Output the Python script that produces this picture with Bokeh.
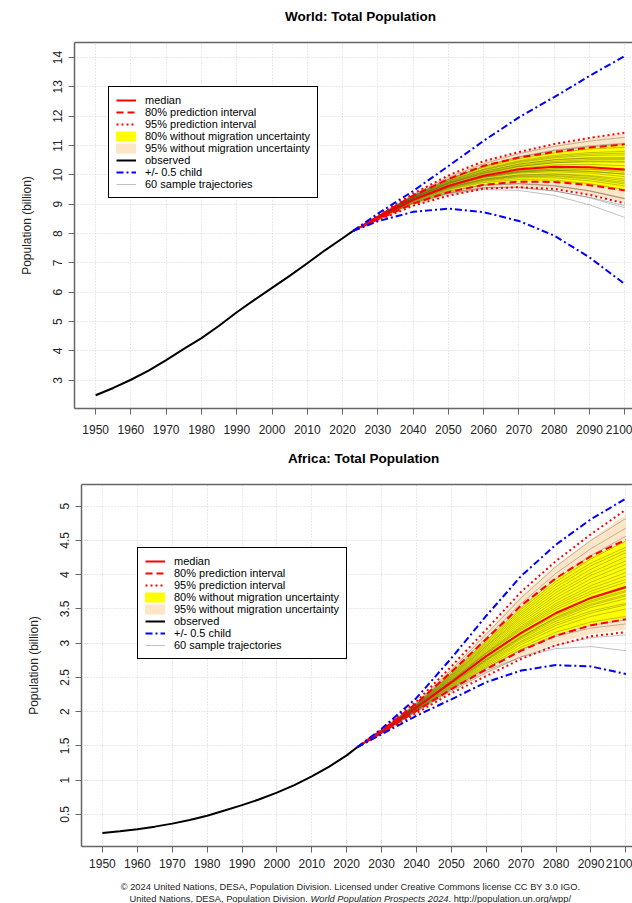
from bokeh.plotting import figure
from bokeh.models import FixedTicker, LinearAxis, Legend, LegendItem, Range1d
from bokeh.core.properties import value
from bokeh.embed import file_html
from bokeh.resources import INLINE

FONT = "Liberation Sans"

# ---------------- data ----------------
x_ticks = [1950, 1960, 1970, 1980, 1990, 2000, 2010, 2020, 2030, 2040, 2050, 2060, 2070, 2080, 2090, 2100]
obs_years = [1950, 1955, 1960, 1965, 1970, 1975, 1980, 1985, 1990, 1995, 2000, 2005, 2010, 2015, 2020, 2023]
proj_years = [2023, 2030, 2040, 2050, 2060, 2070, 2080, 2090, 2100]

# World (billion)
world_obs = [2.49, 2.74, 3.02, 3.33, 3.69, 4.07, 4.44, 4.86, 5.32, 5.74, 6.15, 6.56, 6.99, 7.43, 7.84, 8.09]
world_median = [8.09, 8.53, 9.15, 9.62, 9.97, 10.19, 10.28, 10.26, 10.18]
world_pi80_hi = [8.09, 8.58, 9.29, 9.86, 10.31, 10.59, 10.78, 10.93, 11.04]
world_pi80_lo = [8.09, 8.48, 9.02, 9.41, 9.66, 9.77, 9.76, 9.65, 9.47]
world_pi95_hi = [8.09, 8.61, 9.36, 9.98, 10.47, 10.78, 11.05, 11.26, 11.44]
world_pi95_lo = [8.09, 8.45, 8.95, 9.29, 9.53, 9.58, 9.52, 9.32, 9.03]
world_wo80_hi = [8.09, 8.58, 9.29, 9.86, 10.31, 10.59, 10.78, 10.93, 11.04]
world_wo80_lo = [8.09, 8.48, 9.02, 9.41, 9.66, 9.77, 9.76, 9.65, 9.47]
world_wo95_hi = [8.09, 8.61, 9.35, 9.97, 10.45, 10.76, 11.03, 11.24, 11.42]
world_wo95_lo = [8.09, 8.45, 8.96, 9.30, 9.54, 9.59, 9.53, 9.33, 9.05]
world_child_hi = [8.09, 8.68, 9.45, 10.30, 11.16, 11.96, 12.65, 13.37, 14.05]
world_child_lo = [8.09, 8.42, 8.74, 8.85, 8.73, 8.43, 7.93, 7.19, 6.28]
world_traj = [
    [8.56, 9.21, 9.70, 10.05, 10.28, 10.41, 10.45, 10.43],
    [8.53, 9.15, 9.58, 9.86, 10.00, 10.04, 9.98, 9.86],
    [8.58, 9.27, 9.80, 10.20, 10.48, 10.66, 10.76, 10.80],
    [8.52, 9.10, 9.50, 9.74, 9.84, 9.82, 9.70, 9.50],
    [8.55, 9.19, 9.66, 9.98, 10.17, 10.26, 10.26, 10.19],
    [8.57, 9.24, 9.75, 10.12, 10.37, 10.52, 10.58, 10.58],
    [8.54, 9.16, 9.62, 9.93, 10.10, 10.16, 10.12, 10.02],
    [8.51, 9.08, 9.46, 9.66, 9.71, 9.64, 9.46, 9.20],
    [8.59, 9.30, 9.86, 10.30, 10.62, 10.84, 10.99, 11.08],
    [8.50, 9.05, 9.40, 9.57, 9.58, 9.46, 9.22, 8.88],
    [8.56, 9.22, 9.72, 10.08, 10.32, 10.46, 10.52, 10.52],
    [8.53, 9.13, 9.56, 9.83, 9.96, 9.98, 9.90, 9.74],
    [8.49, 9.02, 9.36, 9.50, 9.47, 9.30, 8.98, 8.55],
    [8.57, 9.25, 9.77, 10.16, 10.42, 10.58, 10.66, 10.68],
    [8.55, 9.18, 9.64, 9.96, 10.14, 10.21, 10.19, 10.09],
    [8.54, 9.17, 9.63, 9.94, 10.12, 10.20, 10.20, 10.14],
    [8.52, 9.11, 9.52, 9.78, 9.90, 9.90, 9.80, 9.62],
    [8.58, 9.28, 9.83, 10.25, 10.55, 10.75, 10.88, 10.94],
    [8.60, 9.33, 9.92, 10.38, 10.72, 10.97, 11.15, 11.28],
    [8.51, 9.07, 9.44, 9.64, 9.69, 9.62, 9.45, 9.18],
    [8.55, 9.20, 9.68, 10.02, 10.23, 10.34, 10.36, 10.31],
    [8.53, 9.14, 9.57, 9.85, 9.99, 10.02, 9.95, 9.80],
    [8.57, 9.26, 9.79, 10.18, 10.45, 10.62, 10.71, 10.74],
    [8.54, 9.15, 9.60, 9.90, 10.06, 10.11, 10.06, 9.94],
    [8.56, 9.23, 9.74, 10.11, 10.36, 10.51, 10.57, 10.57],
    [8.52, 9.12, 9.54, 9.81, 9.94, 9.95, 9.86, 9.69],
    [8.58, 9.29, 9.85, 10.28, 10.60, 10.82, 10.96, 11.04],
    [8.54, 9.16, 9.61, 9.92, 10.09, 10.15, 10.12, 10.03],
    [8.50, 9.04, 9.38, 9.55, 9.56, 9.45, 9.24, 8.95],
    [8.56, 9.21, 9.71, 10.06, 10.29, 10.42, 10.47, 10.46],
]
world_y_ticks = [3, 4, 5, 6, 7, 8, 9, 10, 11, 12, 13, 14]
world_y_labels = ["3", "4", "5", "6", "7", "8", "9", "10", "11", "12", "13", "14"]

# Africa (billion)
africa_obs = [0.227, 0.253, 0.284, 0.321, 0.365, 0.418, 0.481, 0.556, 0.635, 0.720, 0.818, 0.928, 1.055, 1.198, 1.361, 1.480]
africa_median = [1.48, 1.71, 2.06, 2.43, 2.81, 3.15, 3.44, 3.66, 3.82]
africa_pi80_hi = [1.48, 1.73, 2.12, 2.58, 3.06, 3.55, 3.95, 4.27, 4.51]
africa_pi80_lo = [1.48, 1.69, 2.01, 2.33, 2.62, 2.89, 3.11, 3.26, 3.35]
africa_pi95_hi = [1.48, 1.74, 2.15, 2.66, 3.20, 3.75, 4.20, 4.59, 4.95]
africa_pi95_lo = [1.48, 1.68, 1.98, 2.27, 2.52, 2.77, 2.97, 3.10, 3.16]
africa_wo80_hi = [1.48, 1.725, 2.115, 2.57, 3.04, 3.52, 3.93, 4.25, 4.50]
africa_wo80_lo = [1.48, 1.695, 2.015, 2.34, 2.64, 2.91, 3.13, 3.28, 3.37]
africa_wo95_hi = [1.48, 1.735, 2.14, 2.64, 3.16, 3.70, 4.14, 4.52, 4.88]
africa_wo95_lo = [1.48, 1.685, 1.99, 2.29, 2.55, 2.80, 3.00, 3.13, 3.20]
africa_child_hi = [1.48, 1.75, 2.20, 2.78, 3.40, 3.98, 4.44, 4.81, 5.11]
africa_child_lo = [1.48, 1.67, 1.94, 2.18, 2.43, 2.60, 2.68, 2.66, 2.55]
africa_traj = [
    [1.71, 2.07, 2.45, 2.84, 3.19, 3.49, 3.72, 3.89],
    [1.72, 2.10, 2.54, 3.00, 3.46, 3.86, 4.17, 4.40],
    [1.70, 2.03, 2.37, 2.70, 3.01, 3.26, 3.44, 3.56],
    [1.71, 2.08, 2.48, 2.89, 3.28, 3.62, 3.89, 4.09],
    [1.69, 2.00, 2.30, 2.57, 2.80, 2.97, 3.08, 3.12],
    [1.73, 2.13, 2.61, 3.13, 3.66, 4.12, 4.50, 4.82],
    [1.70, 2.05, 2.41, 2.77, 3.10, 3.37, 3.57, 3.71],
    [1.71, 2.06, 2.44, 2.82, 3.16, 3.45, 3.67, 3.83],
    [1.69, 2.01, 2.32, 2.60, 2.80, 2.92, 2.95, 2.89],
    [1.72, 2.11, 2.56, 3.04, 3.52, 3.94, 4.28, 4.56],
    [1.70, 2.04, 2.39, 2.74, 3.06, 3.32, 3.52, 3.65],
    [1.71, 2.09, 2.50, 2.93, 3.34, 3.70, 3.99, 4.20],
    [1.70, 2.02, 2.35, 2.66, 2.94, 3.16, 3.31, 3.39],
    [1.71, 2.07, 2.46, 2.86, 3.23, 3.55, 3.80, 3.98],
    [1.72, 2.12, 2.58, 3.08, 3.58, 4.02, 4.38, 4.68],
    [1.70, 2.05, 2.42, 2.79, 3.13, 3.41, 3.62, 3.77],
    [1.71, 2.08, 2.47, 2.87, 3.25, 3.58, 3.84, 4.03],
    [1.70, 2.03, 2.38, 2.72, 3.03, 3.29, 3.47, 3.58],
    [1.72, 2.09, 2.52, 2.96, 3.40, 3.78, 4.08, 4.32],
    [1.69, 2.01, 2.33, 2.63, 2.90, 3.10, 3.22, 3.28],
    [1.71, 2.06, 2.43, 2.81, 3.15, 3.44, 3.66, 3.80],
    [1.72, 2.10, 2.53, 2.98, 3.43, 3.82, 4.13, 4.36],
    [1.70, 2.04, 2.40, 2.75, 3.08, 3.35, 3.55, 3.69],
    [1.71, 2.08, 2.49, 2.91, 3.31, 3.66, 3.94, 4.15],
    [1.70, 2.03, 2.36, 2.68, 2.98, 3.22, 3.39, 3.50],
    [1.72, 2.11, 2.55, 3.02, 3.49, 3.90, 4.23, 4.49],
    [1.71, 2.07, 2.45, 2.85, 3.21, 3.52, 3.76, 3.93],
    [1.69, 2.02, 2.34, 2.64, 2.91, 3.12, 3.26, 3.34],
    [1.71, 2.09, 2.51, 2.95, 3.37, 3.74, 4.03, 4.26],
    [1.70, 2.05, 2.41, 2.76, 3.09, 3.38, 3.60, 3.75],
]
africa_y_ticks = [0.5, 1, 1.5, 2, 2.5, 3, 3.5, 4, 4.5, 5]
africa_y_labels = ["0.5", "1", "1.5", "2", "2.5", "3", "3.5", "4", "4.5", "5"]

legend_labels = ["median", "80% prediction interval", "95% prediction interval",
                 "80% without migration uncertainty", "95% without migration uncertainty",
                 "observed", "+/- 0.5 child", "60 sample trajectories"]

titles = ["World: Total Population", "Africa: Total Population"]
footer_line1 = "\u00a9 2024 United Nations, DESA, Population Division. Licensed under Creative Commons license CC BY 3.0 IGO."
footer_line2 = ["United Nations, DESA, Population Division.", "World Population Prospects 2024",
                ". http://population.un.org/wpp/"]

BEIGE = "#FDE6C8"
AXIS = "#666666"
TXT = "#222222"


def strip(height):
    s = figure(width=632, height=height, output_backend="svg", toolbar_location=None,
               x_range=Range1d(0, 632), y_range=Range1d(height, 0),
               min_border_left=0, min_border_right=0, min_border_top=0, min_border_bottom=0,
               x_axis_location=None, y_axis_location=None)
    s.outline_line_color = None
    s.xgrid.visible = False
    s.ygrid.visible = False
    s.border_fill_color = "white"
    s.background_fill_color = "white"
    return s


def build(obs, med, hi80, lo80, hi95, lo95, whi80, wlo80, whi95, wlo95, chhi, chlo, traj,
          y0, y1, yticks, ylabels, height, b_left, b_top, b_bottom, x_end, legend_xy, x_standoff):
    p = figure(width=632, height=height, output_backend="svg", toolbar_location=None,
               x_range=Range1d(1944, x_end), y_range=Range1d(y0, y1),
               min_border_left=b_left, min_border_right=0, min_border_top=b_top,
               min_border_bottom=b_bottom)
    p.outline_line_color = None
    p.background_fill_color = "white"
    p.border_fill_color = "white"

    xa = p.xaxis[0]
    xa.ticker = FixedTicker(ticks=x_ticks)
    ya = p.yaxis[0]
    ya.ticker = FixedTicker(ticks=yticks)
    ya.major_label_overrides = {t: l for t, l in zip(yticks, ylabels)}
    ya.major_label_orientation = "vertical"
    ya.axis_label = "Population (billion)"
    ya.axis_label_text_font = FONT
    ya.axis_label_text_font_style = "normal"
    ya.axis_label_text_font_size = "12px"
    ya.axis_label_text_color = TXT
    ya.axis_label_standoff = 17
    for ax in (xa, ya):
        ax.axis_line_color = AXIS
        ax.axis_line_width = 1.5
        ax.major_tick_line_color = AXIS
        ax.major_tick_out = 6
        ax.major_tick_in = 0
        ax.minor_tick_line_color = None
        ax.major_label_text_font = FONT
        ax.major_label_text_font_size = "12px"
        ax.major_label_text_color = TXT
    xa.major_label_standoff = x_standoff
    ya.major_label_standoff = 6

    top = LinearAxis(ticker=FixedTicker(ticks=[]), axis_line_color=AXIS, axis_line_width=1.5,
                     major_tick_line_color=None, minor_tick_line_color=None,
                     major_label_text_font_size="0px", major_label_standoff=0)
    p.add_layout(top, "above")

    for g in (p.xgrid[0], p.ygrid[0]):
        g.grid_line_color = "#d3d3d3"
        g.grid_line_dash = "1 2"
        g.grid_line_width = 1

    p.varea(x=proj_years, y1=wlo95, y2=whi95, fill_color=BEIGE)
    p.varea(x=proj_years, y1=wlo80, y2=whi80, fill_color="yellow")
    r_traj = p.multi_line(xs=[proj_years] * len(traj), ys=[[obs[-1]] + t for t in traj],
                          line_color="#333333", line_alpha=0.3, line_width=1)
    r_obs = p.line(obs_years, obs, line_color="black", line_width=2)
    r95 = p.line(proj_years, hi95, line_color="red", line_width=2, line_dash="2 3")
    p.line(proj_years, lo95, line_color="red", line_width=2, line_dash="2 3")
    r80 = p.line(proj_years, hi80, line_color="red", line_width=2, line_dash="7 4")
    p.line(proj_years, lo80, line_color="red", line_width=2, line_dash="7 4")
    r_med = p.line(proj_years, med, line_color="red", line_width=2)
    r_ch = p.line(proj_years, chhi, line_color="blue", line_width=2, line_dash="7 3 2 3")
    p.line(proj_years, chlo, line_color="blue", line_width=2, line_dash="7 3 2 3")
    # legend-only swatches for the two "without migration" bands
    r_w80 = p.line(x=[2000.0], y=[float("nan")], line_color="yellow", line_width=10, line_cap="round")
    r_w95 = p.line(x=[2000.0], y=[float("nan")], line_color=BEIGE, line_width=10, line_cap="round")

    rends = [r_med, r80, r95, r_w80, r_w95, r_obs, r_ch, r_traj]
    legend = Legend(items=[LegendItem(label=l, renderers=[r]) for l, r in zip(legend_labels, rends)],
                    location=legend_xy, label_text_font=FONT, label_text_font_size="11px",
                    label_text_color="black", glyph_width=20, glyph_height=12, label_height=12,
                    spacing=0, padding=7, margin=0, label_standoff=9,
                    border_line_color="black", border_line_width=1, border_line_alpha=1,
                    background_fill_color="white", background_fill_alpha=1)
    p.add_layout(legend)
    return p


# title strip 1 (canvas y 0..30)
t1 = strip(30)
t1.text(x=[360], y=[16], text=[titles[0]], text_font=value(FONT), text_font_size=value("13.5px"),
        text_font_style="bold", text_align="center", text_baseline="middle", text_color="black")

# chart 1 (canvas y 30..438), frame 42..408
p1 = build(world_obs, world_median, world_pi80_hi, world_pi80_lo,
           world_pi95_hi, world_pi95_lo, world_wo80_hi, world_wo80_lo, world_wo95_hi, world_wo95_lo,
           world_child_hi, world_child_lo, world_traj, 2.04, 14.51, world_y_ticks, world_y_labels,
           408, 74, 12, 30, 2102.2, (34, 210), 10)

# title strip 2 (canvas y 438..470)
t2 = strip(32)
t2.text(x=[363], y=[20], text=[titles[1]], text_font=value(FONT), text_font_size=value("13.5px"),
        text_font_style="bold", text_align="center", text_baseline="middle", text_color="black")

# chart 2 (canvas y 470..873), frame 484..846
p2 = build(africa_obs, africa_median, africa_pi80_hi, africa_pi80_lo,
           africa_pi95_hi, africa_pi95_lo, africa_wo80_hi, africa_wo80_lo, africa_wo95_hi, africa_wo95_lo,
           africa_child_hi, africa_child_lo, africa_traj, 0.031, 5.316, africa_y_ticks, africa_y_labels,
           403, 81, 14, 27, 2101.9, (56, 187), 6)

# footer strip (canvas y 873..903)
p3 = strip(30)
fs = value("9.3px")
p3.text(x=[350], y=[13], text=[footer_line1], text_font=value(FONT), text_font_size=fs,
        text_align="center", text_baseline="middle", text_color=TXT)
p3.text(x=[129], y=[25], text=[footer_line2[0]], text_font=value(FONT), text_font_size=fs,
        text_align="left", text_baseline="middle", text_color=TXT)
p3.text(x=[310], y=[25], text=[footer_line2[1]], text_font=value(FONT), text_font_size=fs,
        text_font_style="italic", text_align="left", text_baseline="middle", text_color=TXT)
p3.text(x=[448], y=[25], text=[footer_line2[2]], text_font=value(FONT), text_font_size=fs,
        text_align="left", text_baseline="middle", text_color=TXT)

open("out.html", "w").write(file_html([t1, p1, t2, p2, p3], INLINE))
